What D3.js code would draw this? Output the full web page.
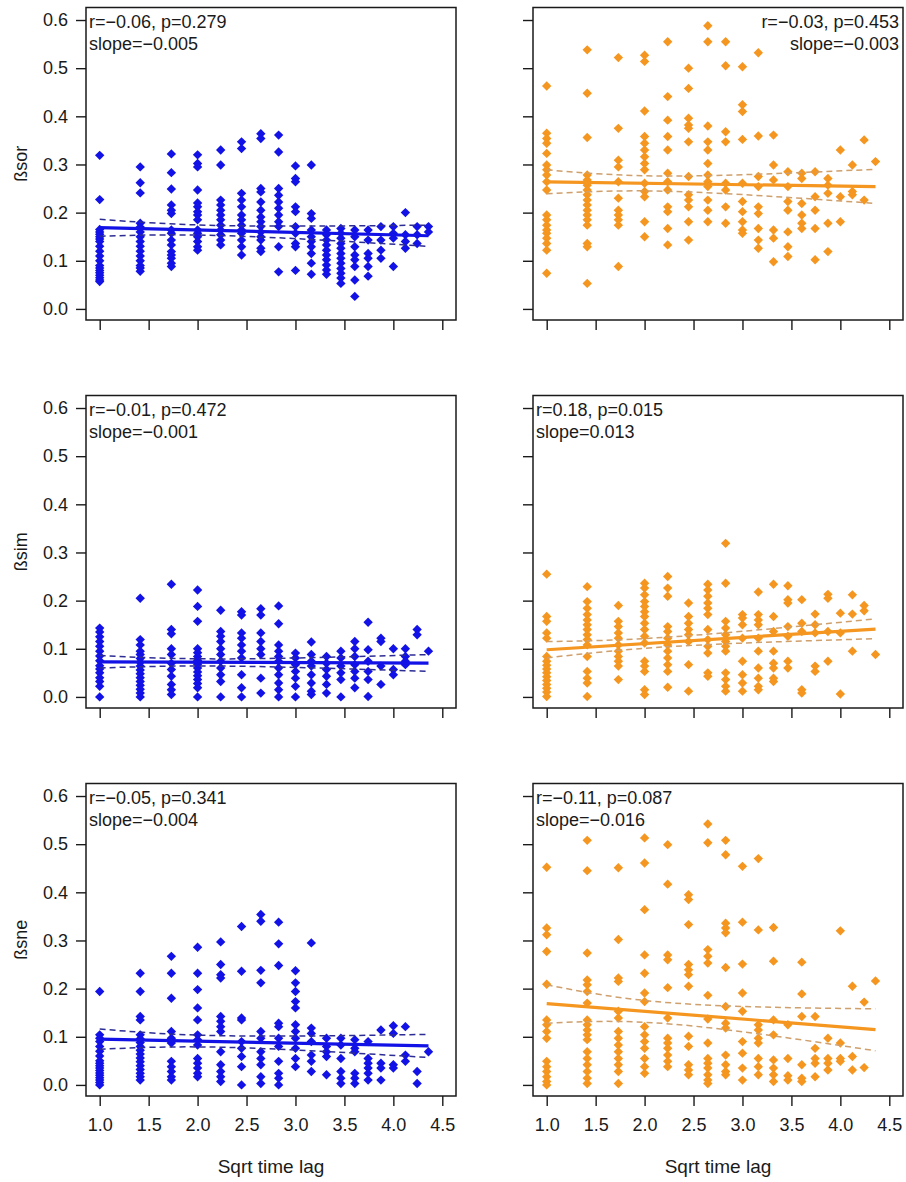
<!DOCTYPE html>
<html>
<head>
<meta charset="utf-8">
<script src="https://cdn.jsdelivr.net/npm/d3@7"></script>
<style>
  body { margin: 0; background: #fff; }
  svg { display: block; }
</style>
</head>
<body>
<div id="chart"></div>
<script>
/* 3x2 散点图: beta 多样性 vs sqrt 时间间隔 */

// x 值 (sqrt of lag 1..19)
const sqrtLag = [1.0, 1.414, 1.732, 2.0, 2.236, 2.449, 2.646, 2.828, 3.0, 3.162,
                 3.317, 3.464, 3.606, 3.742, 3.873, 4.0, 4.123, 4.243, 4.359]
const xTicks = [1.0, 1.5, 2.0, 2.5, 3.0, 3.5, 4.0, 4.5]
const yTicks = [0.0, 0.1, 0.2, 0.3, 0.4, 0.5, 0.6]
const rowLabels = ["ßsor", "ßsim", "ßsne"]
const xTitle = "Sqrt time lag"

// one array of y values per sqrtLag column
const sorBlue = [
  [0.319, 0.227, 0.165, 0.16, 0.155, 0.15, 0.145, 0.14, 0.13, 0.12, 0.11, 0.10, 0.09, 0.085, 0.08, 0.075, 0.07, 0.065, 0.06, 0.057],
  [0.295, 0.262, 0.241, 0.178, 0.17, 0.16, 0.15, 0.14, 0.13, 0.12, 0.11, 0.10, 0.09, 0.085, 0.078],
  [0.322, 0.283, 0.249, 0.216, 0.205, 0.198, 0.164, 0.157, 0.143, 0.133, 0.119, 0.112, 0.105, 0.095, 0.088],
  [0.32, 0.302, 0.295, 0.247, 0.22, 0.212, 0.202, 0.195, 0.185, 0.164, 0.157, 0.15, 0.14, 0.129, 0.122],
  [0.33, 0.299, 0.226, 0.216, 0.205, 0.195, 0.185, 0.174, 0.164, 0.154, 0.143, 0.133],
  [0.347, 0.333, 0.24, 0.226, 0.212, 0.195, 0.185, 0.174, 0.164, 0.157, 0.143, 0.129, 0.112],
  [0.364, 0.354, 0.25, 0.243, 0.222, 0.205, 0.191, 0.181, 0.171, 0.16, 0.15, 0.143, 0.126, 0.119],
  [0.361, 0.326, 0.25, 0.236, 0.222, 0.209, 0.195, 0.181, 0.171, 0.129, 0.077],
  [0.297, 0.271, 0.264, 0.212, 0.202, 0.171, 0.157, 0.136, 0.129, 0.08],
  [0.299, 0.198, 0.188, 0.164, 0.15, 0.14, 0.129, 0.115, 0.095, 0.072],
  [0.164, 0.154, 0.143, 0.133, 0.122, 0.112, 0.102, 0.091, 0.081, 0.072],
  [0.167, 0.157, 0.147, 0.136, 0.126, 0.115, 0.105, 0.095, 0.084, 0.074, 0.064, 0.053],
  [0.164, 0.15, 0.129, 0.112, 0.102, 0.088, 0.06, 0.026],
  [0.164, 0.143, 0.115, 0.105, 0.088, 0.068],
  [0.171, 0.143, 0.122, 0.105],
  [0.171, 0.157, 0.147, 0.088],
  [0.2, 0.154, 0.14, 0.126],
  [0.171, 0.154, 0.136],
  [0.171, 0.16]
]
const sorOrange = [
  [0.463, 0.365, 0.354, 0.344, 0.323, 0.299, 0.289, 0.278, 0.264, 0.247, 0.195, 0.185, 0.174, 0.164, 0.157, 0.147, 0.136, 0.122, 0.074],
  [0.538, 0.448, 0.356, 0.278, 0.268, 0.257, 0.247, 0.237, 0.226, 0.216, 0.205, 0.195, 0.185, 0.174, 0.136, 0.129, 0.053],
  [0.522, 0.375, 0.309, 0.295, 0.264, 0.23, 0.205, 0.195, 0.185, 0.174, 0.088],
  [0.527, 0.514, 0.411, 0.358, 0.344, 0.33, 0.316, 0.302, 0.289, 0.261, 0.244, 0.233, 0.181, 0.15],
  [0.555, 0.441, 0.392, 0.358, 0.33, 0.282, 0.264, 0.247, 0.212, 0.202, 0.167, 0.133],
  [0.5, 0.458, 0.396, 0.382, 0.375, 0.347, 0.275, 0.237, 0.226, 0.212, 0.181, 0.143],
  [0.588, 0.555, 0.38, 0.347, 0.33, 0.302, 0.278, 0.264, 0.254, 0.226, 0.205, 0.181],
  [0.555, 0.505, 0.368, 0.347, 0.261, 0.247, 0.212, 0.178],
  [0.503, 0.424, 0.41, 0.352, 0.261, 0.223, 0.202, 0.181, 0.164, 0.157],
  [0.532, 0.359, 0.275, 0.254, 0.212, 0.198, 0.167, 0.143, 0.126],
  [0.361, 0.299, 0.268, 0.164, 0.147, 0.098],
  [0.285, 0.254, 0.223, 0.205, 0.16, 0.129, 0.109],
  [0.282, 0.271, 0.219, 0.195, 0.178, 0.167],
  [0.285, 0.233, 0.205, 0.167, 0.102],
  [0.271, 0.257, 0.24, 0.178, 0.119],
  [0.33, 0.233, 0.181],
  [0.299, 0.244, 0.237],
  [0.351, 0.226],
  [0.306]
]
const simBlue = [
  [0.143, 0.135, 0.125, 0.115, 0.105, 0.095, 0.085, 0.075, 0.065, 0.058, 0.05, 0.04, 0.032, 0.022, 0.0],
  [0.205, 0.119, 0.108, 0.095, 0.088, 0.08, 0.072, 0.064, 0.056, 0.048, 0.04, 0.032, 0.024, 0.016, 0.008, 0.0],
  [0.234, 0.14, 0.131, 0.1, 0.088, 0.07, 0.057, 0.043, 0.026, 0.015, 0.005],
  [0.222, 0.188, 0.157, 0.1, 0.092, 0.084, 0.076, 0.068, 0.06, 0.052, 0.044, 0.036, 0.028, 0.019, 0.0],
  [0.18, 0.136, 0.126, 0.115, 0.1, 0.088, 0.074, 0.06, 0.046, 0.032, 0.0],
  [0.177, 0.17, 0.133, 0.122, 0.108, 0.095, 0.081, 0.046, 0.019, 0.0],
  [0.183, 0.17, 0.133, 0.115, 0.1, 0.088, 0.039, 0.008],
  [0.189, 0.152, 0.108, 0.095, 0.084, 0.074, 0.06, 0.046, 0.029, 0.015, 0.0],
  [0.091, 0.081, 0.067, 0.053, 0.039, 0.022, 0.0],
  [0.114, 0.088, 0.074, 0.064, 0.046, 0.029, 0.012, 0.005],
  [0.084, 0.07, 0.057, 0.043, 0.026, 0.008],
  [0.095, 0.081, 0.064, 0.05, 0.036, 0.0],
  [0.115, 0.1, 0.084, 0.067, 0.053, 0.039, 0.019],
  [0.155, 0.098, 0.074, 0.053, 0.036, 0.001],
  [0.122, 0.115, 0.064, 0.026],
  [0.1, 0.057, 0.046],
  [0.1, 0.084, 0.074, 0.067],
  [0.14, 0.129],
  [0.095]
]
const simOrange = [
  [0.255, 0.167, 0.157, 0.133, 0.122, 0.084, 0.074, 0.066, 0.058, 0.05, 0.042, 0.034, 0.026, 0.018, 0.01, 0.001],
  [0.229, 0.198, 0.184, 0.171, 0.16, 0.15, 0.14, 0.129, 0.119, 0.108, 0.084, 0.053, 0.039, 0.029, 0.001],
  [0.19, 0.157, 0.146, 0.133, 0.122, 0.108, 0.095, 0.084, 0.074, 0.064, 0.036],
  [0.236, 0.226, 0.212, 0.198, 0.188, 0.177, 0.167, 0.153, 0.14, 0.126, 0.112, 0.074, 0.064, 0.053, 0.015, 0.005],
  [0.25, 0.226, 0.209, 0.146, 0.136, 0.122, 0.108, 0.095, 0.081, 0.067, 0.053, 0.02],
  [0.195, 0.167, 0.153, 0.14, 0.129, 0.115, 0.067, 0.012],
  [0.234, 0.222, 0.209, 0.195, 0.184, 0.171, 0.14, 0.119, 0.105, 0.091, 0.05, 0.043],
  [0.319, 0.236, 0.157, 0.143, 0.129, 0.115, 0.105, 0.095, 0.05, 0.036, 0.022, 0.012],
  [0.171, 0.164, 0.15, 0.122, 0.074, 0.046, 0.029, 0.012],
  [0.218, 0.171, 0.16, 0.15, 0.122, 0.095, 0.06, 0.039, 0.022, 0.015],
  [0.234, 0.167, 0.136, 0.095, 0.07, 0.06, 0.039, 0.032],
  [0.231, 0.202, 0.195, 0.146, 0.126, 0.074, 0.06],
  [0.202, 0.153, 0.136, 0.015, 0.008],
  [0.172, 0.15, 0.133, 0.064, 0.053],
  [0.213, 0.205, 0.136, 0.074],
  [0.174, 0.133, 0.006],
  [0.212, 0.172, 0.095],
  [0.19, 0.179],
  [0.088]
]
const sneBlue = [
  [0.194, 0.104, 0.097, 0.09, 0.08, 0.07, 0.06, 0.05, 0.045, 0.04, 0.035, 0.03, 0.025, 0.02, 0.015, 0.01, 0.005, 0.0],
  [0.232, 0.194, 0.142, 0.135, 0.104, 0.096, 0.088, 0.08, 0.072, 0.064, 0.056, 0.048, 0.04, 0.032, 0.024, 0.017, 0.01],
  [0.267, 0.232, 0.18, 0.111, 0.097, 0.087, 0.049, 0.038, 0.028, 0.017, 0.01],
  [0.286, 0.232, 0.198, 0.16, 0.135, 0.104, 0.094, 0.083, 0.055, 0.045, 0.035, 0.024, 0.017],
  [0.297, 0.25, 0.229, 0.222, 0.142, 0.132, 0.121, 0.111, 0.069, 0.042, 0.028, 0.017, 0.007],
  [0.329, 0.236, 0.139, 0.135, 0.09, 0.076, 0.059, 0.038, 0.0],
  [0.354, 0.34, 0.238, 0.212, 0.111, 0.097, 0.069, 0.055, 0.042, 0.017, 0.003],
  [0.338, 0.293, 0.248, 0.128, 0.121, 0.097, 0.08, 0.049, 0.024, 0.014, 0.0],
  [0.237, 0.212, 0.194, 0.173, 0.16, 0.125, 0.111, 0.097, 0.076, 0.055, 0.038],
  [0.295, 0.118, 0.107, 0.09, 0.062, 0.049, 0.028],
  [0.097, 0.08, 0.069, 0.059, 0.021],
  [0.097, 0.083, 0.055, 0.028, 0.014, 0.003],
  [0.094, 0.076, 0.069, 0.024, 0.014, 0.003],
  [0.09, 0.055, 0.045, 0.035, 0.024, 0.01],
  [0.114, 0.045, 0.035, 0.01],
  [0.123, 0.107, 0.042, 0.035],
  [0.121, 0.062, 0.049],
  [0.028, 0.003],
  [0.069]
]
const sneOrange = [
  [0.452, 0.326, 0.312, 0.277, 0.209, 0.135, 0.125, 0.111, 0.097, 0.049, 0.038, 0.028, 0.017, 0.007, 0.0],
  [0.508, 0.445, 0.274, 0.218, 0.208, 0.194, 0.17, 0.135, 0.125, 0.114, 0.104, 0.094, 0.069, 0.055, 0.042, 0.028, 0.014, 0.003],
  [0.451, 0.302, 0.222, 0.215, 0.153, 0.139, 0.111, 0.097, 0.083, 0.069, 0.055, 0.042, 0.028, 0.003],
  [0.513, 0.461, 0.364, 0.27, 0.232, 0.191, 0.173, 0.121, 0.104, 0.09, 0.076, 0.055, 0.038, 0.024],
  [0.499, 0.417, 0.27, 0.26, 0.202, 0.139, 0.097, 0.087, 0.076, 0.062, 0.049, 0.038],
  [0.395, 0.385, 0.333, 0.25, 0.239, 0.229, 0.205, 0.101, 0.08, 0.042, 0.031, 0.021],
  [0.542, 0.503, 0.281, 0.267, 0.253, 0.186, 0.137, 0.087, 0.055, 0.045, 0.035, 0.021, 0.01, 0.003],
  [0.508, 0.478, 0.336, 0.326, 0.316, 0.244, 0.163, 0.128, 0.118, 0.062, 0.042, 0.028, 0.021],
  [0.454, 0.338, 0.251, 0.191, 0.153, 0.09, 0.066, 0.035, 0.01],
  [0.47, 0.322, 0.125, 0.114, 0.097, 0.087, 0.055, 0.038, 0.021],
  [0.327, 0.257, 0.135, 0.104, 0.052, 0.035, 0.021, 0.007],
  [0.125, 0.055, 0.019, 0.01],
  [0.255, 0.189, 0.142, 0.042, 0.014, 0.007],
  [0.142, 0.076, 0.055, 0.045, 0.017],
  [0.097, 0.055, 0.045, 0.031],
  [0.32, 0.087, 0.055, 0.049],
  [0.205, 0.059, 0.031],
  [0.172, 0.036],
  [0.216]
]

// regression line (at fitX) and confidence band (at bandX)
const fitX = [1.0, 4.359]
const bandX = [1.0, 2.3, 4.359]
const sorBlueFit = [0.169, 0.152], sorBlueUpper = [0.186, 0.173, 0.174], sorBlueLower = [0.151, 0.152, 0.130]
const sorOrangeFit = [0.264, 0.254], sorOrangeUpper = [0.289, 0.276, 0.290], sorOrangeLower = [0.239, 0.244, 0.219]
const simBlueFit = [0.073, 0.070], simBlueUpper = [0.086, 0.079, 0.088], simBlueLower = [0.060, 0.064, 0.053]
const simOrangeFit = [0.098, 0.141], simOrangeUpper = [0.115, 0.125, 0.162], simOrangeLower = [0.081, 0.105, 0.121]
const sneBlueFit = [0.095, 0.081], sneBlueUpper = [0.116, 0.102, 0.105], sneBlueLower = [0.074, 0.078, 0.057]
const sneOrangeFit = [0.169, 0.115], sneOrangeUpper = [0.208, 0.170, 0.158], sneOrangeLower = [0.128, 0.126, 0.071]

const stats = [
  ["r=−0.06, p=0.279", "slope=−0.005"],
  ["r=−0.03, p=0.453", "slope=−0.003"],
  ["r=−0.01, p=0.472", "slope=−0.001"],
  ["r=0.18, p=0.015", "slope=0.013"],
  ["r=−0.05, p=0.341", "slope=−0.004"],
  ["r=−0.11, p=0.087", "slope=−0.016"]
]

const blue = "#1212e6", blueDash = "#2c2c94"
const orange = "#f4961f", orangeDash = "#cf9f6c"
const font = "'Liberation Sans', Arial, sans-serif"
const ink = "#1a1a1a"

const width = 906
const height = 1182
const colLeft = [86, 533]        // left edge of each panel column
const rowTop = [7.5, 395.5, 783.5] // top edge of each panel row
const panelW = 370
const panelH = 312.5
const xDomain = [0.86, 4.64]
const yDomain = [-0.023, 0.626]

const panels = [
  {row: 0, col: 0, values: sorBlue, fit: sorBlueFit, upper: sorBlueUpper, lower: sorBlueLower, color: blue, dash: blueDash, align: "left"},
  {row: 0, col: 1, values: sorOrange, fit: sorOrangeFit, upper: sorOrangeUpper, lower: sorOrangeLower, color: orange, dash: orangeDash, align: "right"},
  {row: 1, col: 0, values: simBlue, fit: simBlueFit, upper: simBlueUpper, lower: simBlueLower, color: blue, dash: blueDash, align: "left"},
  {row: 1, col: 1, values: simOrange, fit: simOrangeFit, upper: simOrangeUpper, lower: simOrangeLower, color: orange, dash: orangeDash, align: "left"},
  {row: 2, col: 0, values: sneBlue, fit: sneBlueFit, upper: sneBlueUpper, lower: sneBlueLower, color: blue, dash: blueDash, align: "left"},
  {row: 2, col: 1, values: sneOrange, fit: sneOrangeFit, upper: sneOrangeUpper, lower: sneOrangeLower, color: orange, dash: orangeDash, align: "left"}
]

const svg = d3.select("#chart")
  .append("svg")
  .attr("width", width)
  .attr("height", height)
  .attr("viewBox", [0, 0, width, height])

const diamond = d3.symbol(d3.symbolSquare, 44)

panels.forEach((p, k) => {
  const x0 = colLeft[p.col]
  const y0 = rowTop[p.row]
  const x = d3.scaleLinear(xDomain, [x0, x0 + panelW])
  const y = d3.scaleLinear(yDomain, [y0 + panelH, y0])
  const g = svg.append("g")

  // y 轴
  g.append("g")
    .attr("transform", `translate(${x0},0)`)
    .call(d3.axisLeft(y).tickValues(yTicks).tickSize(10).tickPadding(8)
      .tickFormat(p.col === 0 ? d3.format(".1f") : () => ""))
    .call(a => a.select(".domain").remove())
    .call(a => a.selectAll("line").attr("stroke-width", 1.4))
    .attr("font-size", 18).attr("font-family", font).attr("color", ink)

  // x 轴
  g.append("g")
    .attr("transform", `translate(0,${y0 + panelH})`)
    .call(d3.axisBottom(x).tickValues(xTicks).tickSize(10).tickPadding(12)
      .tickFormat(p.row === 2 ? d3.format(".1f") : () => ""))
    .call(a => a.select(".domain").remove())
    .call(a => a.selectAll("line").attr("stroke-width", 1.4))
    .attr("font-size", 18).attr("font-family", font).attr("color", ink)

  // 数据点
  const pts = []
  sqrtLag.forEach((lag, i) => p.values[i].forEach(v => pts.push([lag, v])))
  g.append("g").selectAll("path").data(pts).join("path")
    .attr("d", diamond)
    .attr("transform", d => `translate(${x(d[0])},${y(d[1])}) rotate(45)`)
    .attr("fill", p.color)

  // 置信区间 (虚线)
  const band = d3.line().x(d => x(d[0])).y(d => y(d[1])).curve(d3.curveNatural)
  ;[p.upper, p.lower].forEach(arr => {
    g.append("path")
      .datum(bandX.map((bx, i) => [bx, arr[i]]))
      .attr("d", band)
      .attr("fill", "none")
      .attr("stroke", p.dash)
      .attr("stroke-width", 1.5)
      .attr("stroke-dasharray", "6,4")
  })

  // 回归线
  g.append("path")
    .datum(fitX.map((fx, i) => [fx, p.fit[i]]))
    .attr("d", d3.line().x(d => x(d[0])).y(d => y(d[1])))
    .attr("fill", "none")
    .attr("stroke", p.color)
    .attr("stroke-width", 3.2)

  // 边框
  g.append("rect")
    .attr("x", x0).attr("y", y0)
    .attr("width", panelW).attr("height", panelH)
    .attr("fill", "none").attr("stroke", ink).attr("stroke-width", 1.5)

  // r / p / slope
  const tx = p.align === "left" ? x0 + 3 : x0 + panelW - 4
  const t = g.append("text")
    .attr("font-family", font).attr("font-size", 18).attr("fill", ink)
    .attr("text-anchor", p.align === "left" ? "start" : "end")
  stats[k].forEach((s, i) => {
    t.append("tspan").attr("x", tx).attr("y", y(0.6) + 8 + i * 22).text(s)
  })

  // y 轴标题
  if (p.col === 0) {
    svg.append("text")
      .attr("transform", `translate(27,${y0 + panelH / 2}) rotate(-90)`)
      .attr("text-anchor", "middle")
      .attr("font-family", font).attr("font-size", 18).attr("fill", ink)
      .text(rowLabels[p.row])
  }

  // x 轴标题
  if (p.row === 2) {
    svg.append("text")
      .attr("x", x0 + panelW / 2)
      .attr("y", 1173)
      .attr("text-anchor", "middle")
      .attr("font-family", font).attr("font-size", 19).attr("fill", ink)
      .text(xTitle)
  }
})
</script>
</body>
</html>
